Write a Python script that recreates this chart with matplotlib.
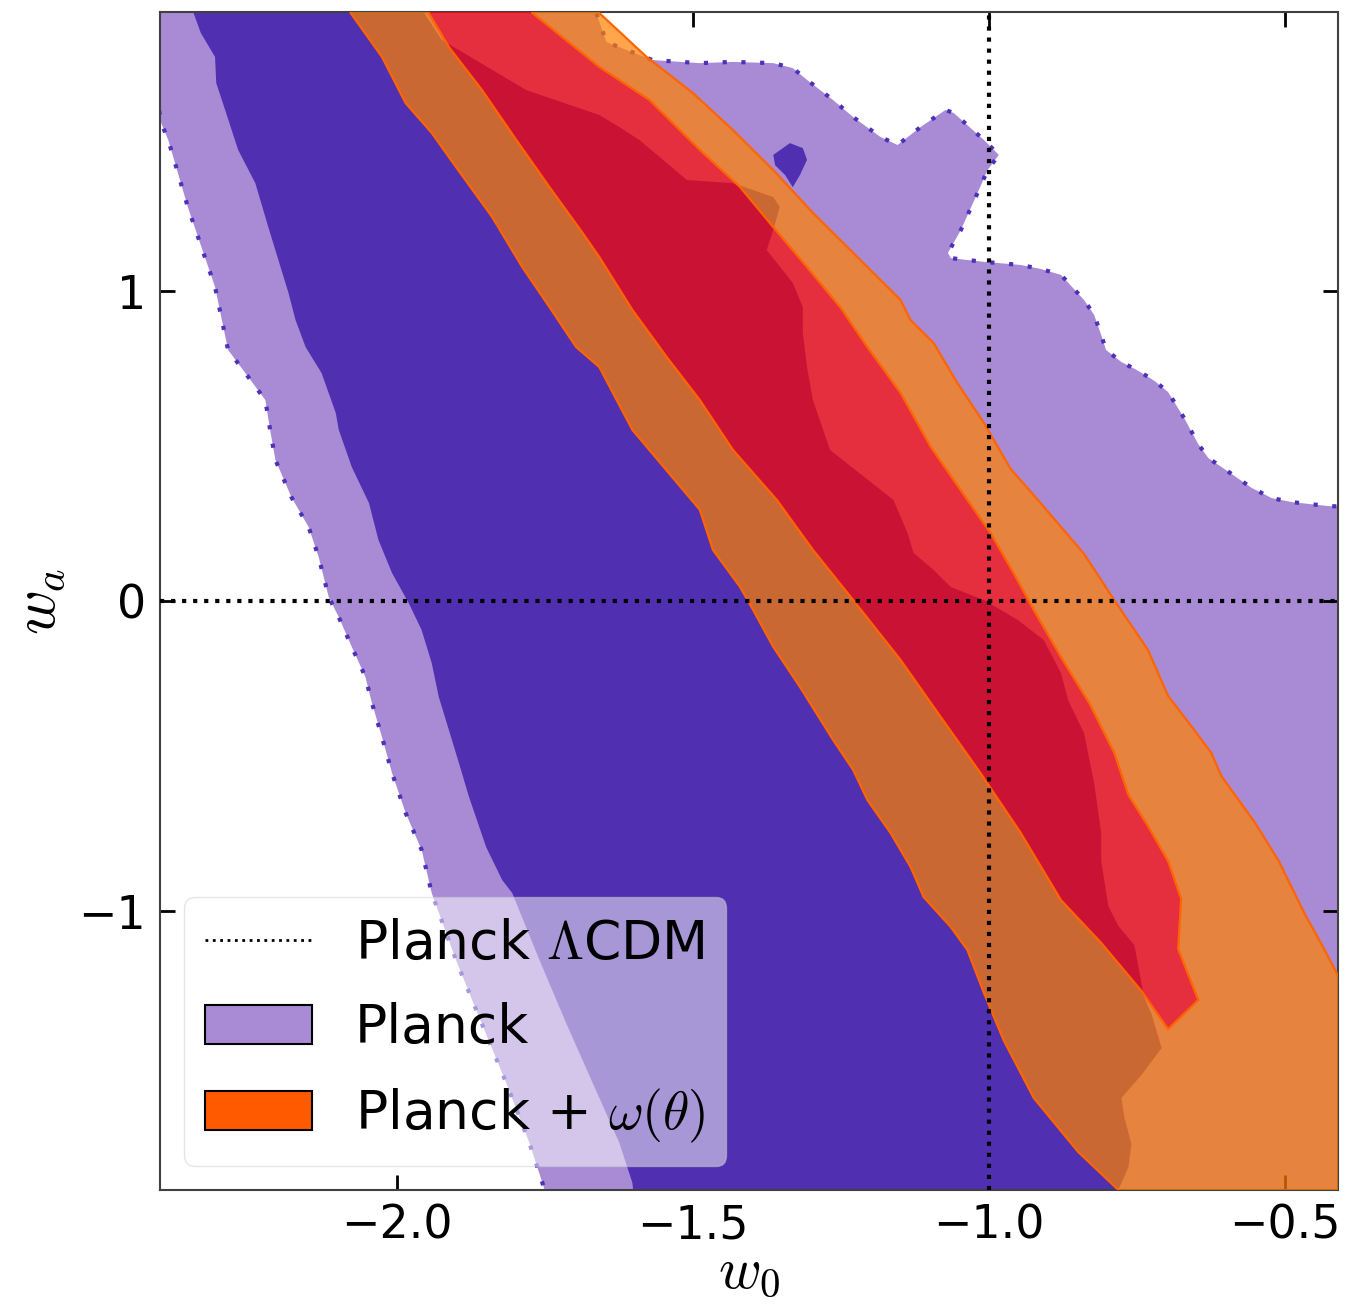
import numpy as np  # numerical arrays
import matplotlib
matplotlib.use("Agg")
import matplotlib.pyplot as plt  # plotting
from matplotlib.path import Path
from matplotlib.patches import PathPatch, Patch
from matplotlib.lines import Line2D
from matplotlib.colors import to_rgba

plt.rcParams['mathtext.fontset'] = 'cm'  # LaTeX-like maths

# Planck, 2 sigma contour (w0, wa)
planck2_w0 = [-2.60, -1.70, -1.646, -1.568, -1.488, -1.432, -1.364, -1.331, -1.307, -1.263,
              -1.229, -1.183, -1.154, -1.115, -1.073, -1.059, -1.008, -0.983, -1.002, -1.019,
              -1.047, -1.069, -1.064, -1.008, -0.946, -0.912, -0.878, -0.839, -0.822, -0.810,
              -0.802, -0.776, -0.747, -0.720, -0.697, -0.669, -0.646, -0.629, -0.602, -0.556,
              -0.522, -0.488, -0.425, -0.30, -0.30, -1.72,
              -1.754, -1.776, -1.815, -1.861, -1.900, -1.941, -1.958, -1.985, -2.008, -2.025,
              -2.042, -2.053, -2.076, -2.098, -2.115, -2.132, -2.149, -2.178, -2.205, -2.214,
              -2.222, -2.251, -2.285, -2.307, -2.353, -2.386, -2.398, -2.403, -2.60]
planck2_wa = [2.10, 2.10, 1.803, 1.745, 1.735, 1.739, 1.735, 1.719, 1.681, 1.616,
              1.561, 1.497, 1.471, 1.529, 1.584, 1.574, 1.487, 1.439, 1.390, 1.316,
              1.197, 1.123, 1.106, 1.094, 1.084, 1.071, 1.052, 0.971, 0.923, 0.858,
              0.810, 0.771, 0.742, 0.710, 0.674, 0.587, 0.506, 0.461, 0.426, 0.365,
              0.332, 0.319, 0.306, 0.30, -2.10, -2.10,
              -1.877, -1.748, -1.555, -1.342, -1.158, -0.942, -0.803, -0.684, -0.555, -0.439,
              -0.329, -0.245, -0.148, -0.052, 0.013, 0.142, 0.239, 0.335, 0.455, 0.552,
              0.648, 0.723, 0.810, 1.013, 1.271, 1.487, 1.542, 1.600, 1.70]

# Planck, 1 sigma contour
planck1_w0 = [-2.36, -2.344, -2.331, -2.307, -2.305, -2.290, -2.268, -2.239, -2.217, -2.200,
              -2.183, -2.171, -2.154, -2.127, -2.103, -2.098, -2.076, -2.047, -2.031, -2.008,
              -1.980, -1.958, -1.941, -1.929, -1.912, -1.895, -1.878, -1.849, -1.822, -1.805,
              -1.759, -1.714, -1.669, -1.624, -1.602, -1.59, -0.78,
              -0.781, -0.764, -0.759, -0.771, -0.776, -0.742, -0.708, -0.725, -0.737, -0.742,
              -0.754, -0.781, -0.798, -0.810, -0.810, -0.822, -0.839, -0.866, -0.878, -0.907,
              -0.951, -1.008, -1.064, -1.093, -1.127, -1.137, -1.161, -1.268, -1.297, -1.307,
              -1.314, -1.314, -1.331, -1.375, -1.364, -1.353, -1.364, -1.432, -1.510, -1.544,
              -1.590, -1.624, -1.658, -1.781, -1.924, -1.954, -1.97]
planck1_wa = [2.10, 1.900, 1.832, 1.755, 1.671, 1.584, 1.455, 1.348, 1.206, 1.100,
              0.994, 0.906, 0.819, 0.735, 0.606, 0.552, 0.432, 0.316, 0.197, 0.090,
              -0.006, -0.094, -0.200, -0.310, -0.416, -0.523, -0.632, -0.794, -0.900, -0.942,
              -1.158, -1.361, -1.555, -1.748, -1.877, -2.10, -2.10,
              -1.900, -1.826, -1.752, -1.665, -1.603, -1.529, -1.442, -1.332, -1.281, -1.232,
              -1.110, -1.048, -0.984, -0.839, -0.748, -0.587, -0.426, -0.319, -0.232, -0.126,
              -0.061, 0.003, 0.045, 0.100, 0.155, 0.219, 0.326, 0.487, 0.648, 0.755,
              0.865, 0.948, 1.026, 1.132, 1.197, 1.271, 1.303, 1.348, 1.358, 1.413,
              1.487, 1.529, 1.568, 1.648, 1.810, 1.897, 2.10]

# small isolated Planck 1 sigma island
island_w0 = [-1.364, -1.336, -1.314, -1.307, -1.319, -1.331, -1.344, -1.361]
island_wa = [1.439, 1.477, 1.461, 1.423, 1.374, 1.335, 1.374, 1.406]

# Planck + w(theta), 2 sigma contour
joint2_w0 = [-2.10, -2.078, -2.025, -1.985, -1.941, -1.900, -1.839, -1.788, -1.742, -1.697,
             -1.658, -1.602, -1.488, -1.466, -1.420, -1.398, -1.364, -1.319, -1.263, -1.229,
             -1.205, -1.166, -1.132, -1.110, -1.064, -1.036, -1.008, -0.975, -0.924, -0.849,
             -0.781, -0.76, -0.30, -0.30,
             -0.407, -0.437, -0.466, -0.510, -0.551, -0.607, -0.624, -0.653, -0.697, -0.731,
             -0.788, -0.839, -0.917, -0.963, -1.008, -1.053, -1.093, -1.132, -1.149, -1.229,
             -1.297, -1.364, -1.432, -1.500, -1.578, -1.658, -1.69]
joint2_wa = [2.10, 1.897, 1.755, 1.606, 1.510, 1.400, 1.239, 1.077, 0.948, 0.819,
             0.755, 0.552, 0.294, 0.165, 0.045, -0.029, -0.148, -0.277, -0.448, -0.545,
             -0.642, -0.748, -0.858, -0.955, -1.052, -1.126, -1.265, -1.416, -1.603, -1.777,
             -1.900, -2.10, -2.10, -1.20,
             -1.219, -1.110, -1.010, -0.839, -0.713, -0.565, -0.490, -0.416, -0.306, -0.158,
             0.003, 0.152, 0.326, 0.426, 0.574, 0.703, 0.832, 0.906, 0.971, 1.123,
             1.252, 1.390, 1.519, 1.639, 1.755, 1.897, 2.10]

# Planck + w(theta), 1 sigma contour
joint1_w0 = [-1.97, -1.946, -1.912, -1.856, -1.798, -1.742, -1.686, -1.658, -1.602, -1.544,
             -1.488, -1.432, -1.358, -1.297, -1.229, -1.149, -1.093, -1.014, -0.946, -0.878,
             -0.810, -0.742, -0.697,
             -0.646, -0.680, -0.675, -0.697, -0.731, -0.764, -0.788, -0.830, -0.878, -0.924,
             -0.958, -0.997, -1.036, -1.098, -1.149, -1.205, -1.251, -1.307, -1.364, -1.420,
             -1.488, -1.573, -1.658, -1.771, -1.78]
joint1_wa = [2.00, 1.897, 1.787, 1.648, 1.487, 1.335, 1.187, 1.110, 0.939, 0.787,
             0.648, 0.487, 0.326, 0.165, 0.003, -0.190, -0.342, -0.555, -0.748, -0.965,
             -1.103, -1.258, -1.381,
             -1.287, -1.123, -0.961, -0.839, -0.726, -0.626, -0.490, -0.330, -0.181, -0.029,
             0.090, 0.219, 0.326, 0.497, 0.671, 0.819, 0.948, 1.077, 1.206, 1.335,
             1.455, 1.616, 1.723, 1.897, 2.00]

# Planck LCDM reference values
lcdm_w0 = -1.0
lcdm_wa = 0.0

light_purple = '#a98bd5'
dark_purple = '#5030b0'
edge_purple = '#4b32b8'
orange = '#ff8000'
red = '#ff0800'
line_orange = '#ff6400'

fig = plt.figure(figsize=(13.45, 13.05), dpi=100)
ax = fig.add_axes([160 / 1345, 1 - 1190 / 1305, 1178 / 1345, 1178 / 1305])

# Planck contours
ax.fill(planck2_w0, planck2_wa, facecolor=light_purple, edgecolor=edge_purple,
        linewidth=3, linestyle=(0, (1, 3.5)), zorder=1)
ax.fill(planck1_w0, planck1_wa, facecolor=dark_purple, edgecolor='none', zorder=2)
ax.fill(island_w0, island_wa, facecolor=dark_purple, edgecolor='none', zorder=2)


def signed_area(x, y):
    x = np.asarray(x)
    y = np.asarray(y)
    return 0.5 * np.sum(x * np.roll(y, -1) - np.roll(x, -1) * y)


# Planck + w(theta): 2 sigma band is the outer contour minus the 1 sigma region
outer = np.column_stack([joint2_w0, joint2_wa])
inner = np.column_stack([joint1_w0, joint1_wa])
if np.sign(signed_area(joint2_w0, joint2_wa)) == np.sign(signed_area(joint1_w0, joint1_wa)):
    inner = inner[::-1]
verts = np.concatenate([outer, outer[:1], inner, inner[:1]])
codes = ([Path.MOVETO] + [Path.LINETO] * (len(outer) - 1) + [Path.CLOSEPOLY]
         + [Path.MOVETO] + [Path.LINETO] * (len(inner) - 1) + [Path.CLOSEPOLY])
band = PathPatch(Path(verts, codes), facecolor=to_rgba(orange, 0.7), edgecolor='none', zorder=3)
ax.add_patch(band)
ax.fill(joint1_w0, joint1_wa, facecolor=to_rgba(red, 0.7), edgecolor='none', zorder=3)
ax.plot(joint2_w0 + joint2_w0[:1], joint2_wa + joint2_wa[:1], color=line_orange, lw=1.6, zorder=4)
ax.plot(joint1_w0 + joint1_w0[:1], joint1_wa + joint1_wa[:1], color=line_orange, lw=1.6, zorder=4)

# LCDM lines
ax.axvline(lcdm_w0, color='k', ls=':', lw=3, zorder=5)
ax.axhline(lcdm_wa, color='k', ls=':', lw=3, zorder=5)

ax.set_xlim(-2.4, -0.41)
ax.set_ylim(-1.9, 1.9)
ax.set_xticks([-2.0, -1.5, -1.0, -0.5])
ax.set_yticks([-1, 0, 1])
ax.tick_params(direction='in', top=True, right=True, length=11, width=2,
               labelsize=33, pad=10)
for s in ax.spines.values():
    s.set_linewidth(1.5)
    s.set_color('0.25')

ax.set_xlabel(r'$w_0$', fontsize=42, labelpad=-4)
ax.set_ylabel(r'$w_a$', fontsize=44, labelpad=8)

handles = [Line2D([], [], color='k', ls=':', lw=2),
           Patch(facecolor=light_purple, edgecolor='k', linewidth=1.5),
           Patch(facecolor='#ff5a00', edgecolor='k', linewidth=1.5)]
labels = [r'Planck $\Lambda$CDM', 'Planck', r'Planck + $\omega(\theta)$']
leg = ax.legend(handles, labels, loc='lower left', fontsize=38.5, framealpha=0.5,
                handlelength=2.0, handleheight=0.75, labelspacing=0.6,
                borderaxespad=0.45)
leg.set_zorder(10)

fig.savefig('out.png', dpi=100)
